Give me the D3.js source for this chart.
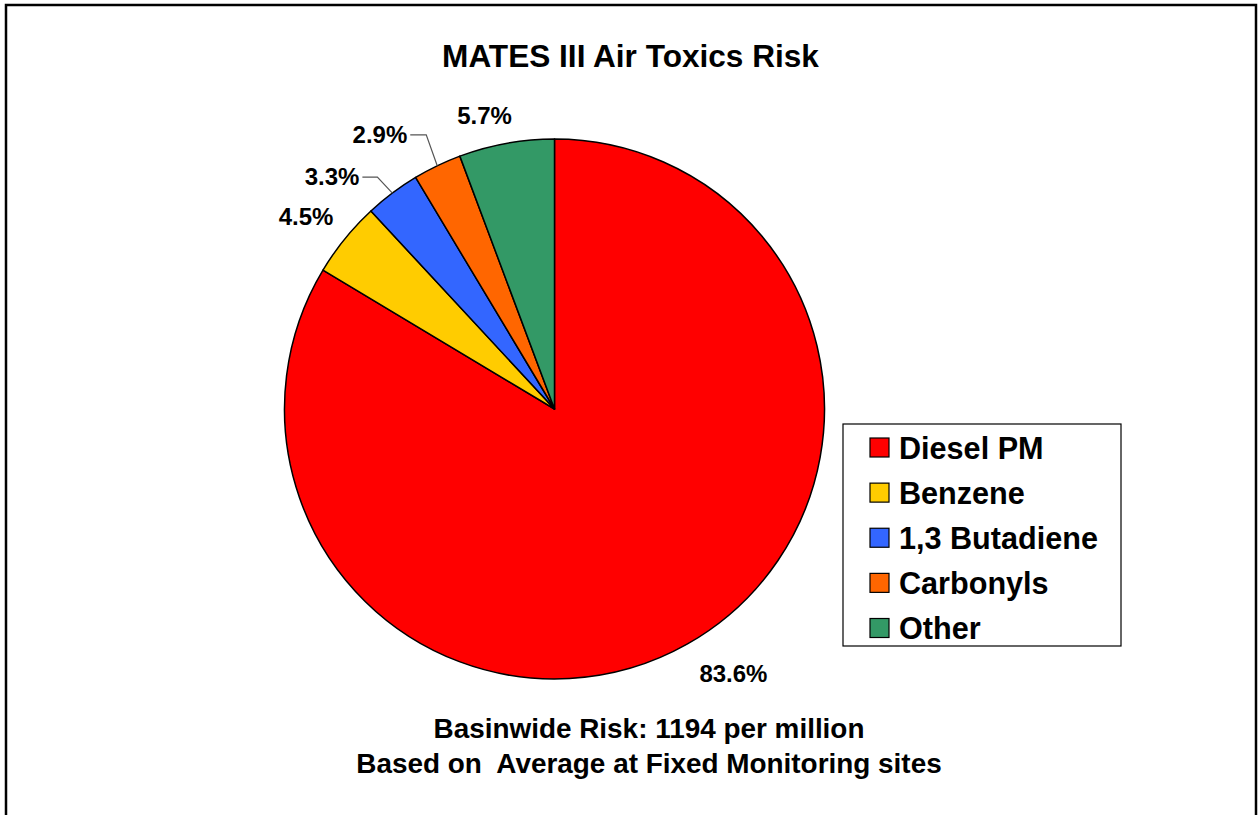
<!DOCTYPE html>
<html>
<head>
<meta charset="utf-8">
<script src="https://cdn.jsdelivr.net/npm/d3@7"></script>
<style>
  html, body { margin: 0; padding: 0; background: #fff; }
  svg { display: block; }
  text { font-family: "Liberation Sans", Arial, Helvetica, sans-serif; font-weight: bold; fill: #000; }
</style>
</head>
<body>
<svg id="chart" width="1260" height="815"></svg>
<script>
// Share of basin-wide cancer risk by pollutant (percent)
const categories = ["Diesel PM", "Benzene", "1,3 Butadiene", "Carbonyls", "Other"];
const shares = [83.6, 4.5, 3.3, 2.9, 5.7];
const colors = ["#FF0000", "#FFCC00", "#3366FF", "#FF6600", "#339966"];

const title = "MATES III Air Toxics Risk";
const footnotes = ["Basinwide Risk: 1194 per million", "Based on  Average at Fixed Monitoring sites"];

// Label placement relative to each slice's outer mid-point (layout only)
// kind: "plain" -> text placed with anchor + offset; "leader" -> elbow line then text
const labelLayout = [
  { kind: "plain", anchor: "start", dx: 4, dy: 24 },
  { kind: "plain", anchor: "end", dx: 1, dy: -4 },
  { kind: "leader", elbow: [-15, -16], end: [-30, -16] },
  { kind: "leader", elbow: [-11, -31], end: [-27, -31] },
  { kind: "plain", anchor: "middle", dx: -19, dy: -4 }
];

const svg = d3.select("#chart");
const W = 1260, H = 815;

// Outer frame
svg.append("rect")
  .attr("x", 6).attr("y", 5)
  .attr("width", 1250).attr("height", H + 20)
  .attr("fill", "none").attr("stroke", "#000").attr("stroke-width", 2.5);

// Title
svg.append("text")
  .attr("x", 630.5).attr("y", 67)
  .attr("text-anchor", "middle")
  .style("font-size", "31.6px")
  .text(title);

// Pie
const cx = 554.5, cy = 409, R = 270;
const data = categories.map((c, i) => ({ name: c, value: shares[i], color: colors[i], layout: labelLayout[i] }));

const pie = d3.pie().value(d => d.value).sort(null);
const arcs = pie(data);
const arc = d3.arc().innerRadius(0).outerRadius(R);
const g = svg.append("g").attr("transform", `translate(${cx},${cy})`);

g.selectAll("path.slice")
  .data(arcs)
  .join("path")
  .attr("class", "slice")
  .attr("d", arc)
  .attr("fill", d => d.data.color)
  .attr("stroke", "#000")
  .attr("stroke-width", 1.5)
  .attr("stroke-linejoin", "round");

// Data labels
const fmt = d3.format(".1f");
function polar(a, r) { return [Math.sin(a) * r, -Math.cos(a) * r]; }

arcs.forEach(d => {
  const mid = (d.startAngle + d.endAngle) / 2;
  const L = d.data.layout;
  const label = fmt(d.data.value) + "%";
  if (L.kind === "plain") {
    const p = polar(mid, R + 16);
    g.append("text")
      .attr("x", p[0] + L.dx).attr("y", p[1] + L.dy)
      .attr("text-anchor", L.anchor)
      .style("font-size", "24px")
      .text(label);
  } else {
    const p = polar(mid, R);
    const e1 = [p[0] + L.elbow[0], p[1] + L.elbow[1]];
    const e2 = [p[0] + L.end[0], p[1] + L.end[1]];
    g.append("polyline")
      .attr("points", [p, e1, e2].map(q => q.join(",")).join(" "))
      .attr("fill", "none").attr("stroke", "#555").attr("stroke-width", 1.2);
    g.append("text")
      .attr("x", e2[0] - 3).attr("y", e2[1] + 8)
      .attr("text-anchor", "end")
      .style("font-size", "24px")
      .text(label);
  }
});

// Legend
const lg = svg.append("g").attr("transform", "translate(843,424)");
lg.append("rect")
  .attr("x", 0).attr("y", 0).attr("width", 278).attr("height", 222)
  .attr("fill", "#fff").attr("stroke", "#000").attr("stroke-width", 1.2);

const rowY = d3.scalePoint().domain(categories).range([23.5, 204]);
const items = lg.selectAll("g.item").data(data).join("g")
  .attr("class", "item")
  .attr("transform", d => `translate(0,${rowY(d.name)})`);
items.append("rect")
  .attr("x", 27).attr("y", -9.5).attr("width", 19).attr("height", 19)
  .attr("fill", d => d.color).attr("stroke", "#000").attr("stroke-width", 1.2);
items.append("text")
  .attr("x", 56).attr("y", 11)
  .style("font-size", "30.6px")
  .text(d => d.name);

// Footnotes
svg.selectAll("text.foot").data(footnotes).join("text")
  .attr("class", "foot")
  .attr("x", 649)
  .attr("y", (d, i) => 738 + i * 35)
  .attr("text-anchor", "middle")
  .attr("xml:space", "preserve")
  .style("white-space", "pre")
  .style("font-size", "27.9px")
  .text(d => d);
</script>
</body>
</html>
